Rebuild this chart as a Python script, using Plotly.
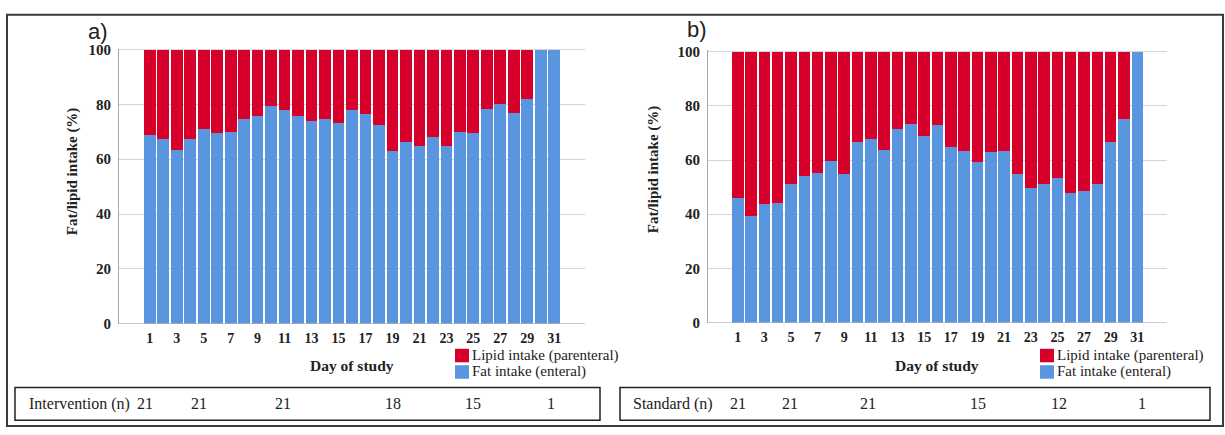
import plotly.graph_objects as go

# ---------------- data ----------------
days = list(range(1, 32))
fat_intervention = [68.8, 67.3, 63.3, 67.3, 71.0, 69.4, 70.0, 74.6, 75.8, 79.3,
                    78.1, 75.8, 74.0, 74.6, 73.4, 78.0, 76.6, 72.5, 62.9, 66.4,
                    64.7, 68.2, 64.7, 69.8, 69.6, 78.4, 80.1, 77.0, 81.9, 100.0, 100.0]
fat_standard = [46.1, 39.5, 43.7, 44.3, 51.1, 54.1, 55.1, 59.5, 54.9, 66.5,
                67.7, 63.8, 71.6, 73.4, 69.0, 72.8, 64.9, 63.3, 59.3, 63.0,
                63.3, 55.0, 49.5, 51.2, 53.4, 47.9, 48.5, 51.2, 66.6, 75.1, 100.0]
lipid_intervention = [round(100 - v, 1) for v in fat_intervention]
lipid_standard = [round(100 - v, 1) for v in fat_standard]

x_ticks = list(range(1, 32, 2))
y_ticks = [0, 20, 40, 60, 80, 100]

series_names = ["Lipid intake (parenteral)", "Fat intake (enteral)"]
panel_labels = ["a)", "b)"]
table_labels = ["Intervention (n)", "Standard (n)"]
counts_intervention = ["21", "21", "21", "18", "15", "1"]
counts_standard = ["21", "21", "21", "15", "12", "1"]

# ---------------- style / layout ----------------
W, H = 1225, 435
RED = "#D6002B"
BLUE = "#5A95E0"
SERIF = "Liberation Serif"

def px(x):
    return x / W

def py(y):
    return 1 - y / H

fig = go.Figure()

panels = [
    dict(fat=fat_intervention, lipid=lipid_intervention, xa="x", ya="y",
         xdom=[px(119), px(585)], ydom=[py(328), py(43)], xr=[-1.28, 33.28]),
    dict(fat=fat_standard, lipid=lipid_standard, xa="x2", ya="y2",
         xdom=[px(708), px(1167)], ydom=[py(327), py(45)], xr=[-1.23, 33.23]),
]

for p in panels:
    fig.add_trace(go.Bar(x=days, y=p["fat"], marker_color=BLUE, marker_line_width=0,
                         name=series_names[1], xaxis=p["xa"], yaxis=p["ya"], showlegend=False))
    fig.add_trace(go.Bar(x=days, y=p["lipid"], marker_color=RED, marker_line_width=0,
                         name=series_names[0], xaxis=p["xa"], yaxis=p["ya"], showlegend=False))

axis_common_x = dict(tickmode="array", tickvals=x_ticks, ticktext=[str(t) for t in x_ticks],
                     showgrid=False, zeroline=False, showline=False, ticks="",
                     tickfont=dict(family=SERIF, size=14, color="#222", weight="bold"),
                     ticklabelstandoff=4)
axis_common_y = dict(tickmode="array", tickvals=y_ticks, range=[0, 100.4],
                     showgrid=True, gridcolor="#D4D4D4", gridwidth=1, zeroline=False,
                     showline=True, linecolor="#A8A8A8", linewidth=1, ticks="",
                     tickfont=dict(family=SERIF, size=15, color="#222", weight="bold"),
                     ticklabelstandoff=4)

fig.update_layout(
    width=W, height=H, margin=dict(l=0, r=0, t=0, b=0), autosize=False,
    paper_bgcolor="white", plot_bgcolor="white",
    barmode="stack", bargap=0.13, showlegend=False,
    xaxis=dict(domain=panels[0]["xdom"], range=panels[0]["xr"], anchor="y", **axis_common_x),
    yaxis=dict(domain=panels[0]["ydom"], anchor="x", **axis_common_y),
    xaxis2=dict(domain=panels[1]["xdom"], range=panels[1]["xr"], anchor="y2", **axis_common_x),
    yaxis2=dict(domain=panels[1]["ydom"], anchor="x2", **axis_common_y),
)

shapes = []
annotations = []

def note(text, x, y, size, family=SERIF, xanchor="center", angle=0):
    annotations.append(dict(text=text, x=px(x), y=py(y), xref="paper", yref="paper",
                            xanchor=xanchor, yanchor="middle", textangle=angle, showarrow=False,
                            font=dict(family=family, size=size, color="#222")))

# outer frame
shapes.append(dict(type="rect", xref="paper", yref="paper", x0=px(7), x1=px(1223), y0=py(434), y1=py(8),
                   line=dict(color="#3A3A3A", width=2), fillcolor="rgba(0,0,0,0)"))

# per-panel decorations
panel_geo = [
    dict(ylab_x=72, ymid=170, xt_x=352, lab=(98, 25), leg_x=455, tab=(15, 600),
         tab_text_x=27, count_x=[145, 199, 283, 393, 473, 551], counts=counts_intervention),
    dict(ylab_x=653, ymid=168, xt_x=937, lab=(697, 23), leg_x=1040, tab=(620, 1210),
         tab_text_x=631, count_x=[738, 790, 868, 978, 1059, 1142], counts=counts_standard),
]

for i, g in enumerate(panel_geo):
    xa = "x" if i == 0 else "x2"
    ya = "y" if i == 0 else "y2"
    # x-axis baseline
    shapes.append(dict(type="line", xref=f"{xa} domain", yref=ya, x0=0, x1=1, y0=0, y1=0,
                       line=dict(color="#A8A8A8", width=1)))
    # axis titles
    note("<b>Fat/lipid intake (%)</b>", g["ylab_x"], g["ymid"], 15, angle=-90)
    note("<b>Day of study</b>", g["xt_x"], 371, 15.5)
    # panel label
    note(panel_labels[i], g["lab"][0], g["lab"][1], 22, family="Liberation Sans")
    # legend
    lx = g["leg_x"]
    for col, name, ytop in [(RED, series_names[0], 354), (BLUE, series_names[1], 371)]:
        shapes.append(dict(type="rect", xref="paper", yref="paper", x0=px(lx), x1=px(lx + 14),
                           y0=py(ytop + 14), y1=py(ytop), fillcolor=col, line=dict(width=0)))
        note(name, lx + 15, ytop + 7, 15, xanchor="left")
    # table box
    shapes.append(dict(type="rect", xref="paper", yref="paper", x0=px(g["tab"][0]), x1=px(g["tab"][1]),
                       y0=py(428), y1=py(394), line=dict(color="#222", width=1.5),
                       fillcolor="rgba(0,0,0,0)"))
    note(table_labels[i], g["tab_text_x"], 411, 16, xanchor="left")
    for cx, c in zip(g["count_x"], g["counts"]):
        note(c, cx, 411, 16)

fig.update_layout(shapes=shapes, annotations=annotations)

post = ("document.documentElement.style.margin='0';document.documentElement.style.overflow='hidden';"
        "document.body.style.margin='0';document.body.style.padding='0';"
        "document.body.style.overflow='hidden';"
        "var gd=document.getElementById('{plot_id}');"
        "gd.style.position='fixed';gd.style.left='0px';gd.style.top='0px';"
        "Plotly.relayout(gd,{width:%d,height:%d});" % (W, H))

fig.write_html("out.html", post_script=post, config={"displayModeBar": False})
